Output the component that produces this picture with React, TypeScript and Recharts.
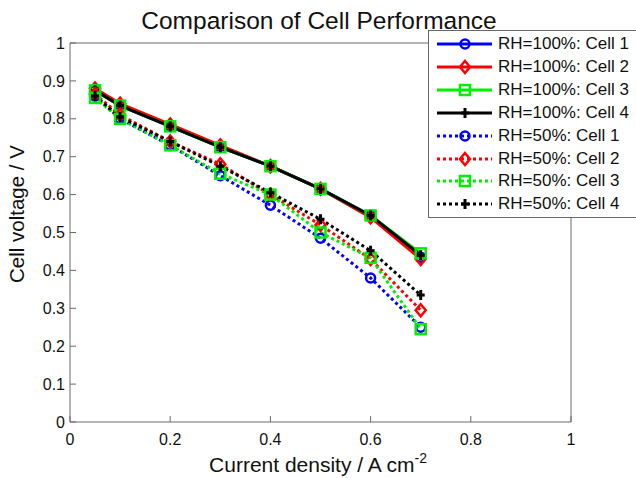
import { LineChart, Line, XAxis, YAxis, Legend, Label } from 'recharts'

// current density, A cm^-2
const CURRENT = [0.05, 0.1, 0.2, 0.3, 0.4, 0.5, 0.6, 0.7]

// cell voltage, V
const RH100_CELL1 = [0.875, 0.835, 0.78, 0.725, 0.675, 0.615, 0.545, 0.435]
const RH100_CELL2 = [0.88, 0.84, 0.785, 0.73, 0.675, 0.615, 0.54, 0.43]
const RH100_CELL3 = [0.875, 0.835, 0.78, 0.725, 0.675, 0.615, 0.545, 0.445]
const RH100_CELL4 = [0.875, 0.835, 0.78, 0.725, 0.675, 0.615, 0.545, 0.44]
const RH50_CELL1 = [0.86, 0.8, 0.73, 0.65, 0.572, 0.485, 0.38, 0.25]
const RH50_CELL2 = [0.865, 0.81, 0.74, 0.68, 0.6, 0.52, 0.43, 0.295]
const RH50_CELL3 = [0.855, 0.8, 0.73, 0.655, 0.6, 0.5, 0.433, 0.245]
const RH50_CELL4 = [0.86, 0.805, 0.74, 0.675, 0.605, 0.535, 0.452, 0.335]

const X_TICKS = [0, 0.2, 0.4, 0.6, 0.8, 1]
const Y_TICKS = [0, 0.1, 0.2, 0.3, 0.4, 0.5, 0.6, 0.7, 0.8, 0.9, 1]

type MarkerKind = 'circle' | 'diamond' | 'square' | 'plus'

const SERIES: { key: string; name: string; values: number[]; color: string; marker: MarkerKind; dotted: boolean }[] = [
  { key: 'a1', name: 'RH=100%: Cell 1', values: RH100_CELL1, color: '#0000ff', marker: 'circle', dotted: false },
  { key: 'a2', name: 'RH=100%: Cell 2', values: RH100_CELL2, color: '#ff0000', marker: 'diamond', dotted: false },
  { key: 'a3', name: 'RH=100%: Cell 3', values: RH100_CELL3, color: '#00ee00', marker: 'square', dotted: false },
  { key: 'a4', name: 'RH=100%: Cell 4', values: RH100_CELL4, color: '#000000', marker: 'plus', dotted: false },
  { key: 'b1', name: 'RH=50%: Cell 1', values: RH50_CELL1, color: '#0000ff', marker: 'circle', dotted: true },
  { key: 'b2', name: 'RH=50%: Cell 2', values: RH50_CELL2, color: '#ff0000', marker: 'diamond', dotted: true },
  { key: 'b3', name: 'RH=50%: Cell 3', values: RH50_CELL3, color: '#00ee00', marker: 'square', dotted: true },
  { key: 'b4', name: 'RH=50%: Cell 4', values: RH50_CELL4, color: '#000000', marker: 'plus', dotted: true },
]

const data = CURRENT.map((x, i) => {
  const row: Record<string, number> = { x }
  SERIES.forEach(s => { row[s.key] = s.values[i] })
  return row
})

const FONT = '"Liberation Sans", Arial, Helvetica, sans-serif'
const AXIS_COLOR = '#6a6a6a'

function Marker({ cx, cy, kind, color }: { cx: number; cy: number; kind: MarkerKind; color: string }) {
  if (cx == null || cy == null) return null
  if (kind === 'circle')
    return <circle cx={cx} cy={cy} r={4.5} fill="none" stroke={color} strokeWidth={2.5} />
  if (kind === 'diamond')
    return <polygon points={`${cx},${cy - 6} ${cx + 5},${cy} ${cx},${cy + 6} ${cx - 5},${cy}`} fill="none" stroke={color} strokeWidth={2.5} />
  if (kind === 'square')
    return <rect x={cx - 5} y={cy - 5} width={10} height={10} fill="none" stroke={color} strokeWidth={2.5} />
  return (
    <g stroke={color} strokeWidth={3}>
      <line x1={cx - 4} y1={cy} x2={cx + 4} y2={cy} />
      <line x1={cx} y1={cy - 5} x2={cx} y2={cy + 5} />
    </g>
  )
}

function LegendBox() {
  return (
    <div style={{ width: 230, height: 188, background: '#fff', border: `1px solid ${AXIS_COLOR}`, boxSizing: 'border-box', fontFamily: FONT }}>
      {SERIES.map((s, i) => (
        <div key={s.key} style={{ position: 'absolute', left: 0, top: 3 + i * 22.9, height: 22, display: 'flex', alignItems: 'center' }}>
          <svg width={70} height={22}>
            <line x1={9} y1={11} x2={64} y2={11} stroke={s.color} strokeWidth={3} strokeDasharray={s.dotted ? '3 3' : undefined} />
            <Marker cx={37} cy={11} kind={s.marker} color={s.color} />
          </svg>
          <span style={{ fontSize: 17, color: '#111', whiteSpace: 'nowrap' }}>{s.name}</span>
        </div>
      ))}
    </div>
  )
}

export default function App() {
  return (
    <div style={{ position: 'absolute', left: 0, top: 0, width: 636, height: 478, overflow: 'hidden', background: '#fff', fontFamily: FONT }}>
      <div style={{ position: 'absolute', left: 0, top: 7, width: 638, textAlign: 'center', fontSize: 24.5, color: '#111', lineHeight: '28px', whiteSpace: 'nowrap' }}>
        Comparison of Cell Performance
      </div>
      <LineChart width={636} height={478} data={data} margin={{ top: 42, right: 64, bottom: 26, left: 30 }}>
        <XAxis
          dataKey="x" type="number" domain={[0, 1]} ticks={X_TICKS} height={30}
          tickSize={-6} tickMargin={18} stroke={AXIS_COLOR}
          tick={{ fill: '#111', fontSize: 16, fontFamily: FONT }}
        >
          <Label content={() => (
            <text x={318} y={472} textAnchor="middle" fill="#111" fontSize={21} fontFamily={FONT}>
              Current density / A cm<tspan dy={-9} fontSize={14}>-2</tspan>
            </text>
          )} />
        </XAxis>
        <XAxis xAxisId="top" orientation="top" type="number" domain={[0, 1]} ticks={X_TICKS} height={1}
          tickSize={-6} tick={false} stroke={AXIS_COLOR} />
        <YAxis
          type="number" domain={[0, 1]} ticks={Y_TICKS} width={40}
          tickSize={-6} tickMargin={11} stroke={AXIS_COLOR}
          tick={{ fill: '#111', fontSize: 16, fontFamily: FONT }}
        >
          <Label content={() => (
            <text x={24} y={214} textAnchor="middle" fill="#111" fontSize={20.5} fontFamily={FONT} transform="rotate(-90 24 214)">
              Cell voltage / V
            </text>
          )} />
        </YAxis>
        <YAxis yAxisId="right" orientation="right" type="number" domain={[0, 1]} ticks={Y_TICKS} width={1}
          tickSize={-6} tick={false} stroke={AXIS_COLOR} />
        <Legend
          layout="vertical" align="center" verticalAlign="middle"
          wrapperStyle={{ left: 428, top: 30, width: 230 }}
          content={() => <LegendBox />}
        />
        {SERIES.map(s => (
          <Line
            key={s.key}
            dataKey={s.key}
            name={s.name}
            stroke={s.color}
            strokeWidth={3}
            strokeDasharray={s.dotted ? '3 3' : undefined}
            isAnimationActive={false}
            dot={(p: any) => <Marker key={`${s.key}-${p.index}`} cx={p.cx} cy={p.cy} kind={s.marker} color={s.color} />}
            activeDot={false}
          />
        ))}
      </LineChart>
    </div>
  )
}
